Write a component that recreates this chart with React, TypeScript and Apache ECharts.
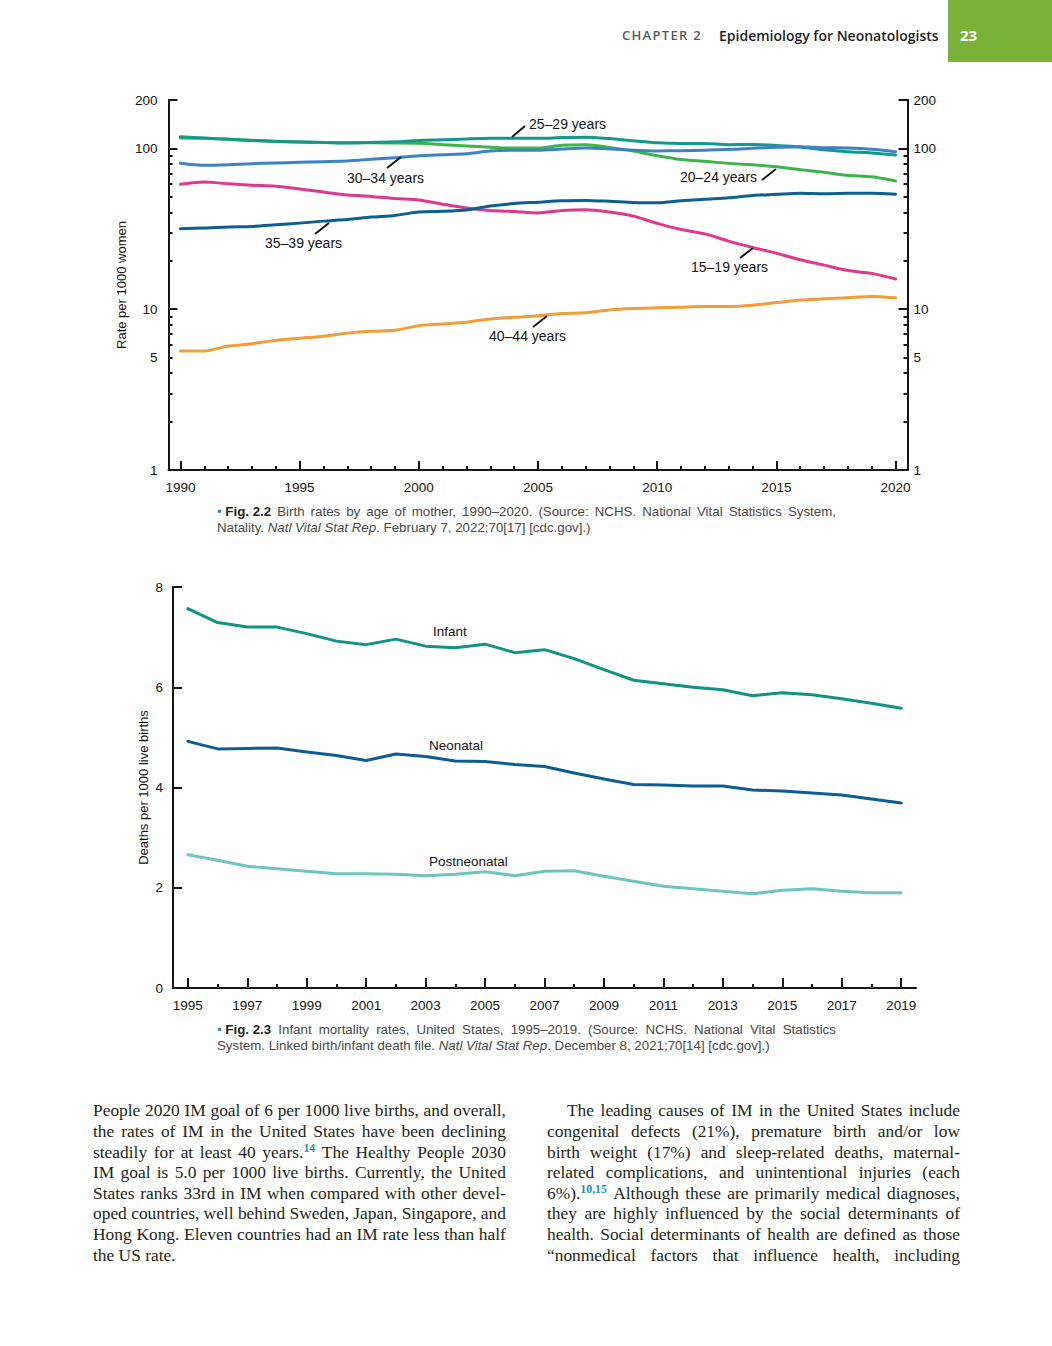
import React, { useEffect, useRef } from "react";
import * as echarts from "echarts";

// ---------- Fig 2.2 data : birth rates by age of mother ----------
const birthYears = ["1990","1991","1992","1993","1994","1995","1996","1997","1998","1999","2000","2001","2002","2003","2004","2005","2006","2007","2008","2009","2010","2011","2012","2013","2014","2015","2016","2017","2018","2019","2020"];
const rate15to19 = [59.9,61.8,60.3,59.0,58.2,56.0,53.5,51.3,50.3,48.8,47.7,45.0,42.6,41.1,40.5,39.7,41.1,41.5,40.2,37.9,34.2,31.3,29.4,26.5,24.2,22.3,20.3,18.8,17.4,16.7,15.4];
const rate20to24 = [116.0,115.5,114.3,112.3,110.8,109.5,109.0,108.5,108.5,108.0,107.5,105.5,103.5,101.8,100.5,100.5,104.5,105.3,101.5,96.2,90.0,85.3,83.1,80.7,79.0,76.8,73.8,71.0,68.0,66.6,62.8];
const rate25to29 = [118.0,116.0,114.0,112.0,110.5,109.5,109.0,108.0,109.0,110.0,112.0,113.0,114.5,115.5,115.5,115.5,116.7,117.5,115.1,111.5,108.3,107.2,107.4,105.5,105.8,104.3,102.1,98.0,95.3,93.7,90.9];
const rate30to34 = [80.8,78.5,79.2,80.4,81.1,81.9,82.7,83.5,85.5,87.6,90.1,91.4,92.7,96.3,97.3,97.3,99.0,100.5,99.3,97.5,96.5,96.8,97.5,98.5,100.1,101.5,102.5,101.0,100.5,98.7,95.4];
const rate35to39 = [31.7,32.0,32.5,32.7,33.5,34.3,35.3,36.1,37.4,38.3,40.2,40.6,41.4,43.8,45.4,46.3,47.3,47.5,46.9,46.1,45.9,47.2,48.3,49.3,51.0,51.8,52.7,52.3,52.6,52.7,51.9];
const rate40to44 = [5.5,5.5,5.9,6.1,6.4,6.6,6.8,7.1,7.3,7.4,7.9,8.1,8.3,8.7,8.9,9.1,9.4,9.5,9.9,10.1,10.2,10.3,10.4,10.4,10.6,11.0,11.4,11.6,11.8,12.0,11.8];
const ageGroups = ["15–19 years","20–24 years","25–29 years","30–34 years","35–39 years","40–44 years"];
const logLabelValues = [1, 5, 10, 100, 200];
const logMajorTickValues = [1, 10, 100, 200];
const logMinorTickValues = [2, 3, 4, 5, 6, 7, 8, 9, 20, 30, 40, 50, 60, 70, 80, 90];

// ---------- Fig 2.3 data : infant mortality ----------
const mortalityYears = ["1995","1996","1997","1998","1999","2000","2001","2002","2003","2004","2005","2006","2007","2008","2009","2010","2011","2012","2013","2014","2015","2016","2017","2018","2019"];
const infantRate = [7.57,7.29,7.20,7.20,7.07,6.92,6.85,6.96,6.82,6.79,6.86,6.69,6.75,6.57,6.35,6.14,6.07,6.00,5.95,5.83,5.89,5.85,5.77,5.68,5.58];
const neonatalRate = [4.92,4.77,4.78,4.79,4.71,4.64,4.54,4.67,4.62,4.53,4.52,4.46,4.42,4.29,4.17,4.06,4.05,4.03,4.03,3.95,3.93,3.89,3.85,3.77,3.69];
const postneonatalRate = [2.66,2.55,2.43,2.38,2.33,2.28,2.28,2.27,2.24,2.27,2.32,2.24,2.33,2.34,2.23,2.13,2.03,1.98,1.93,1.88,1.95,1.98,1.93,1.90,1.90];
const mortalityNames = ["Infant", "Neonatal", "Postneonatal"];

const FONT = '"Liberation Sans", Arial, Helvetica, sans-serif';
const INK = "#141414";
const LOG_TOP = Math.log10(200);

function lineSeries(name: string, data: number[], color: string, xi: number, yi: number, smooth: number | boolean) {
  return {
    type: "line", name, data, xAxisIndex: xi, yAxisIndex: yi, symbol: "none", smooth,
    lineStyle: { color, width: 3, cap: "round", join: "round" }, itemStyle: { color },
    emphasis: { disabled: true }, z: 3,
  };
}

function logSideAxes(pos: "left" | "right") {
  const major: any = {
    type: "value", gridIndex: 0, position: pos, min: 0, max: LOG_TOP,
    axisLine: { show: true, onZero: false, lineStyle: { color: INK, width: 2 } },
    axisTick: { show: true, inside: true, length: 9, lineStyle: { color: INK, width: 2 }, customValues: logMajorTickValues.map((v) => Math.log10(v)) },
    axisLabel: { show: true, margin: pos === "left" ? 11 : 6, customValues: logLabelValues.map((v) => Math.log10(v)), formatter: (v: number) => String(Math.round(Math.pow(10, v))), color: INK, fontSize: 13.5, fontFamily: FONT },
    splitLine: { show: false },
  };
  if (pos === "left") {
    major.name = "Rate per 1000 women";
    major.nameLocation = "middle";
    major.nameGap = 41;
    major.nameMoveOverlap = false;
    major.nameTextStyle = { color: INK, fontSize: 13, fontFamily: FONT };
  }
  const minor = {
    type: "value", gridIndex: 0, position: pos, min: 0, max: LOG_TOP,
    axisLine: { show: false },
    axisTick: { show: true, inside: true, length: 4, lineStyle: { color: INK, width: 2 }, customValues: logMinorTickValues.map((v) => Math.log10(v)) },
    axisLabel: { show: false }, splitLine: { show: false },
  };
  return [major, minor];
}

function annotation(text: string, x: number, y: number, fontSize: number, lead?: [number, number, number, number]) {
  const els: any[] = [{
    type: "text", x, y, z: 10,
    style: { text, fill: INK, fontSize, fontFamily: FONT, align: "left", verticalAlign: "middle" },
  }];
  if (lead) {
    els.push({ type: "line", z: 10, shape: { x1: lead[0], y1: lead[1], x2: lead[2], y2: lead[3] }, style: { stroke: INK, lineWidth: 2 } });
  }
  return els;
}

const option: any = {
  animation: false,
  backgroundColor: "transparent",
  grid: [
    { left: 168.5, top: 100, width: 739, height: 370, containLabel: false },
    { left: 173, top: 587, width: 743, height: 401, containLabel: false },
  ],
  xAxis: [
    {
      type: "category", gridIndex: 0, data: birthYears, boundaryGap: true, position: "bottom",
      axisLine: { show: true, onZero: false, lineStyle: { color: INK, width: 2 } },
      axisTick: { show: true, inside: true, length: 9, alignWithLabel: true, interval: (i: number) => i % 5 === 0, lineStyle: { color: INK, width: 2 } },
      axisLabel: { interval: (i: number) => i % 5 === 0, margin: 10, color: INK, fontSize: 13.5, fontFamily: FONT },
      splitLine: { show: false },
    },
    {
      type: "category", gridIndex: 0, data: birthYears, boundaryGap: true, position: "bottom",
      axisLine: { show: false, onZero: false },
      axisTick: { show: true, inside: true, length: 4, alignWithLabel: true, interval: 0, lineStyle: { color: INK, width: 2 } },
      axisLabel: { show: false }, splitLine: { show: false },
    },
    {
      type: "category", gridIndex: 1, data: mortalityYears, boundaryGap: true, position: "bottom",
      axisLine: { show: true, onZero: false, lineStyle: { color: INK, width: 2 } },
      axisTick: { show: true, inside: true, length: 10, alignWithLabel: true, interval: (i: number) => i % 2 === 0, lineStyle: { color: INK, width: 2 } },
      axisLabel: { interval: (i: number) => i % 2 === 0, margin: 10, color: INK, fontSize: 13.5, fontFamily: FONT },
      splitLine: { show: false },
    },
    {
      type: "category", gridIndex: 1, data: mortalityYears, boundaryGap: true, position: "bottom",
      axisLine: { show: false, onZero: false },
      axisTick: { show: true, inside: true, length: 4, alignWithLabel: true, interval: 0, lineStyle: { color: INK, width: 2 } },
      axisLabel: { show: false }, splitLine: { show: false },
    },
  ],
  yAxis: [
    { type: "log", logBase: 10, gridIndex: 0, min: 1, max: 200, show: false },
    ...logSideAxes("left"),
    ...logSideAxes("right"),
    {
      type: "value", gridIndex: 1, min: 0, max: 8, interval: 2, position: "left",
      axisLine: { show: true, onZero: false, lineStyle: { color: INK, width: 2 } },
      axisTick: { show: true, inside: true, length: 9, lineStyle: { color: INK, width: 2 } },
      axisLabel: { margin: 10, color: INK, fontSize: 13.5, fontFamily: FONT },
      splitLine: { show: false },
      name: "Deaths per 1000 live births", nameLocation: "middle", nameGap: 23.5, nameMoveOverlap: false,
      nameTextStyle: { color: INK, fontSize: 13, fontFamily: FONT },
    },
  ],
  series: [
    lineSeries(ageGroups[5], rate40to44, "#f29d38", 0, 0, 0.25),
    lineSeries(ageGroups[0], rate15to19, "#e2378e", 0, 0, 0.25),
    lineSeries(ageGroups[4], rate35to39, "#0c5f90", 0, 0, 0.25),
    lineSeries(ageGroups[1], rate20to24, "#3db34a", 0, 0, 0.25),
    lineSeries(ageGroups[2], rate25to29, "#119a88", 0, 0, 0.25),
    lineSeries(ageGroups[3], rate30to34, "#3a84c6", 0, 0, 0.25),
    lineSeries(mortalityNames[2], postneonatalRate, "#6fc4bd", 2, 5, false),
    lineSeries(mortalityNames[1], neonatalRate, "#0d5d92", 2, 5, false),
    lineSeries(mortalityNames[0], infantRate, "#0f9483", 2, 5, false),
  ],
  graphic: {
    elements: [
      ...annotation(ageGroups[2], 529, 124, 14, [512, 137, 525, 126]),
      ...annotation(ageGroups[3], 347, 178, 14, [387, 168, 401, 157]),
      ...annotation(ageGroups[1], 680, 177, 14, [762, 180, 776, 169]),
      ...annotation(ageGroups[4], 265, 243, 14, [315, 234, 329, 223]),
      ...annotation(ageGroups[0], 691, 267, 14, [740, 258, 753, 248]),
      ...annotation(ageGroups[5], 489, 336, 14, [533, 327, 547, 316]),
      ...annotation(mortalityNames[0], 433, 631, 13.5),
      ...annotation(mortalityNames[1], 429, 745, 13.5),
      ...annotation(mortalityNames[2], 429, 861, 13.5),
    ],
  },
};

// ---------- page text ----------
const SUP = "#2a8db3";
const BULLET = "#2d86c4";

function renderWord(w: string, key: number) {
  const m = w.match(/^(.*?)\^(\S+)$/);
  if (m) {
    return (
      <span key={key} style={{ whiteSpace: "nowrap" }}>
        {m[1]}
        <span style={{ fontSize: "0.68em", position: "relative", top: "-0.5em", color: SUP, fontWeight: 600 }}>{m[2]}</span>{" "}
      </span>
    );
  }
  return <span key={key} style={{ whiteSpace: "nowrap" }}>{w + " "}</span>;
}

function JLine(props: { left: number; top: number; width: number; text: string; font: React.CSSProperties; lead?: React.ReactNode; justify?: boolean; indent?: number }) {
  const words = props.text.split(" ");
  const justify = props.justify !== false;
  return (
    <div
      style={{
        position: "absolute", left: props.left + (props.indent || 0), top: props.top,
        width: props.width - (props.indent || 0), display: "flex",
        justifyContent: justify ? "space-between" : "flex-start", whiteSpace: "nowrap", ...props.font,
      }}
    >
      {props.lead}
      {justify ? words.map((w, i) => renderWord(w, i)) : <span style={{ whiteSpace: "pre" }}>{words.map((w, i) => renderWord(w, i))}</span>}
    </div>
  );
}

const BODY_SIZE = 17.4;
const CAP_SIZE = 13.3;
const bodyFont: React.CSSProperties = { fontFamily: '"Liberation Serif", "Times New Roman", serif', fontSize: BODY_SIZE, lineHeight: BODY_SIZE + "px", color: "#231f20" };
const capFont: React.CSSProperties = { fontFamily: FONT, fontSize: CAP_SIZE, lineHeight: CAP_SIZE + "px", color: "#474747" };

const leftColumn = [
  "People 2020 IM goal of 6 per 1000 live births, and overall,",
  "the rates of IM in the United States have been declining",
  "steadily for at least 40 years.^14 The Healthy People 2030",
  "IM goal is 5.0 per 1000 live births. Currently, the United",
  "States ranks 33rd in IM when compared with other devel-",
  "oped countries, well behind Sweden, Japan, Singapore, and",
  "Hong Kong. Eleven countries had an IM rate less than half",
  "the US rate.",
];
const rightColumn = [
  "The leading causes of IM in the United States include",
  "congenital defects (21%), premature birth and/or low",
  "birth weight (17%) and sleep-related deaths, maternal-",
  "related complications, and unintentional injuries (each",
  "6%).^10,15 Although these are primarily medical diagnoses,",
  "they are highly influenced by the social determinants of",
  "health. Social determinants of health are defined as those",
  "“nonmedical factors that influence health, including",
];

function figLead(label: string) {
  return (
    <span style={{ whiteSpace: "nowrap" }}>
      <span style={{ color: BULLET }}>•</span> <b style={{ color: "#222" }}>{label}</b>{" "}
    </span>
  );
}

export default function App() {
  const ref = useRef<HTMLDivElement>(null);
  useEffect(() => {
    const chart = echarts.init(ref.current!, null, { renderer: "svg" });
    chart.setOption(option);
    return () => chart.dispose();
  }, []);

  const bodyTop = (i: number) => 1117 + i * 20.6 - 0.8375 * BODY_SIZE;
  const capTop = (baseline: number) => baseline - 0.8465 * CAP_SIZE;

  return (
    <div style={{ position: "absolute", left: 0, top: 0, width: 1052, height: 1346, background: "#fff", overflow: "hidden" }}>
      <div ref={ref} style={{ position: "absolute", left: 0, top: 0, width: 1052, height: 1346 }} />

      {/* running head */}
      <div style={{ position: "absolute", left: 948, top: 0, width: 104, height: 62, background: "#7bb33a" }} />
      <div style={{ position: "absolute", left: 622, top: 40.6 - 0.888 * 13, fontFamily: '"Open Sans", sans-serif', fontWeight: 600, fontSize: 13, lineHeight: "13px", letterSpacing: "1.3px", color: "#595959", whiteSpace: "nowrap" }}>CHAPTER 2</div>
      <div style={{ position: "absolute", left: 719, top: 41 - 0.888 * 14, fontFamily: '"Open Sans", sans-serif', fontWeight: 600, fontSize: 14, lineHeight: "14px", color: "#1e1e1e", whiteSpace: "nowrap" }}>Epidemiology for Neonatologists</div>
      <div style={{ position: "absolute", left: 960, top: 41.4 - 0.888 * 15, fontFamily: '"Open Sans", sans-serif', fontWeight: 700, fontSize: 15, lineHeight: "15px", color: "#fff", whiteSpace: "nowrap" }}>23</div>

      {/* captions */}
      <JLine left={217} top={capTop(516)} width={619} font={capFont} lead={figLead("Fig. 2.2")} text="Birth rates by age of mother, 1990–2020. (Source: NCHS. National Vital Statistics System," />
      <div style={{ position: "absolute", left: 217, top: capTop(532.5), whiteSpace: "nowrap", ...capFont }}>
        Natality. <i>Natl Vital Stat Rep</i>. February 7, 2022;70[17] [cdc.gov].)
      </div>
      <JLine left={217} top={capTop(1034)} width={619} font={capFont} lead={figLead("Fig. 2.3")} text="Infant mortality rates, United States, 1995–2019. (Source: NCHS. National Vital Statistics" />
      <div style={{ position: "absolute", left: 217, top: capTop(1050.5), whiteSpace: "nowrap", ...capFont }}>
        System. Linked birth/infant death file. <i>Natl Vital Stat Rep</i>. December 8, 2021;70[14] [cdc.gov].)
      </div>

      {/* body text */}
      {leftColumn.map((t, i) => (
        <JLine key={"l" + i} left={93} top={bodyTop(i)} width={413} font={bodyFont} text={t} justify={i < leftColumn.length - 1} />
      ))}
      {rightColumn.map((t, i) => (
        <JLine key={"r" + i} left={547} top={bodyTop(i)} width={413} font={bodyFont} text={t} indent={i === 0 ? 20 : 0} />
      ))}
    </div>
  );
}
